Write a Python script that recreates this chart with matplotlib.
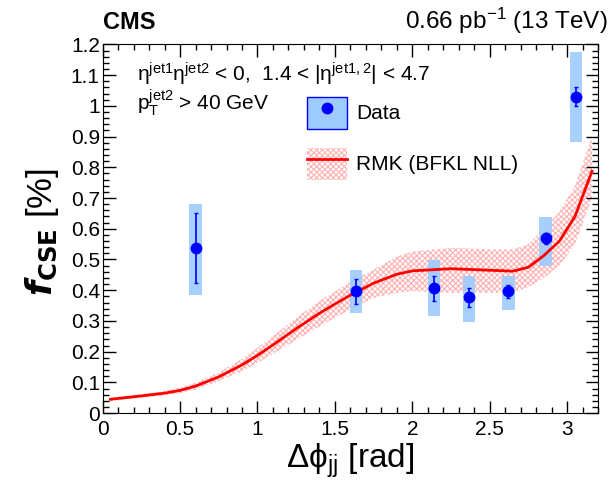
"""CMS colour-singlet-exchange fraction vs delta phi_jj, data vs RMK (BFKL NLL)."""

import matplotlib

matplotlib.use("Agg")
import matplotlib.pyplot as plt
from matplotlib.lines import Line2D
from matplotlib.patches import Patch
from matplotlib.ticker import MultipleLocator

plt.rcParams["font.family"] = ["Liberation Sans", "DejaVu Sans"]
plt.rcParams["mathtext.default"] = "regular"
plt.rcParams["hatch.linewidth"] = 0.8

# Data points: f_CSE [%] per dphi bin, stat errors and systematic band
dphi = [0.60, 1.635, 2.14, 2.365, 2.62, 2.86, 3.055]
f_cse = [0.537, 0.397, 0.407, 0.377, 0.397, 0.569, 1.03]
stat_lo = [0.425, 0.356, 0.365, 0.345, 0.376, 0.551, 1.00]
stat_hi = [0.651, 0.436, 0.446, 0.406, 0.417, 0.586, 1.06]
sys_lo = [0.385, 0.325, 0.317, 0.295, 0.336, 0.479, 0.883]
sys_hi = [0.681, 0.467, 0.497, 0.446, 0.446, 0.638, 1.175]
sys_halfwidth = 0.04

# RMK (BFKL NLL) prediction and its uncertainty band
rmk_x = [0.05, 0.25, 0.4, 0.5, 0.6, 0.75, 0.9, 1.0, 1.1, 1.25, 1.4, 1.5,
         1.6, 1.75, 1.9, 2.0, 2.25, 2.5, 2.65, 2.75, 2.85, 2.95, 3.05, 3.16]
rmk_y = [0.045, 0.056, 0.065, 0.074, 0.088, 0.118, 0.157, 0.188, 0.222,
         0.275, 0.325, 0.355, 0.384, 0.423, 0.452, 0.463, 0.470, 0.465,
         0.462, 0.475, 0.513, 0.56, 0.64, 0.787]
rmk_lo = [0.040, 0.050, 0.058, 0.065, 0.077, 0.104, 0.137, 0.163, 0.193,
          0.238, 0.283, 0.31, 0.337, 0.375, 0.392, 0.397, 0.392, 0.392,
          0.392, 0.41, 0.44, 0.48, 0.55, 0.70]
rmk_hi = [0.050, 0.062, 0.072, 0.083, 0.099, 0.132, 0.177, 0.213, 0.251,
          0.31, 0.365, 0.395, 0.428, 0.467, 0.51, 0.526, 0.538, 0.533,
          0.533, 0.55, 0.60, 0.655, 0.74, 0.90]

BAND_BLUE = "#9ecbff"
PINK = "#ffb0b0"

fig = plt.figure(figsize=(6.11, 4.93), dpi=100)
ax = fig.add_axes([0.168, 0.162, 0.811, 0.748])

# theory band + line
ax.fill_between(rmk_x, rmk_lo, rmk_hi, facecolor="none", edgecolor=PINK,
                hatch="xxxxxx", linewidth=0, zorder=1)
ax.plot(rmk_x, rmk_y, color="red", lw=2, zorder=3)

# systematic boxes
for x, lo, hi in zip(dphi, sys_lo, sys_hi):
    ax.bar(x, hi - lo, bottom=lo, width=2 * sys_halfwidth, color=BAND_BLUE,
           edgecolor="none", alpha=0.9, zorder=2)

yerr = [[v - l for v, l in zip(f_cse, stat_lo)], [h - v for v, h in zip(f_cse, stat_hi)]]
ax.errorbar(dphi, f_cse, yerr=yerr, fmt="o", color="blue", ms=7.5,
            elinewidth=1.2, capsize=1.5, capthick=1, zorder=4)

ax.set_xlim(0, 3.2)
ax.set_ylim(0, 1.2)
ax.xaxis.set_major_locator(MultipleLocator(0.5))
ax.xaxis.set_minor_locator(MultipleLocator(0.1))
ax.yaxis.set_major_locator(MultipleLocator(0.1))
ax.yaxis.set_minor_locator(MultipleLocator(0.02))
ax.set_xticks([0, 0.5, 1, 1.5, 2, 2.5, 3], ["0", "0.5", "1", "1.5", "2", "2.5", "3"])
ax.set_yticks([i / 10 for i in range(13)],
              ["0", "0.1", "0.2", "0.3", "0.4", "0.5", "0.6", "0.7", "0.8", "0.9", "1", "1.1", "1.2"])
ax.tick_params(which="both", direction="in", top=True, right=True, labelsize=15)
ax.tick_params(which="major", length=9, width=1)
ax.tick_params(which="minor", length=4.5, width=1)
ax.tick_params(axis="x", pad=5)
ax.tick_params(axis="y", pad=2)

ax.set_xlabel(r"$\Delta\phi_{jj}$ [rad]", fontsize=24, labelpad=2)
fig.text(0.068, 0.53, r"$\boldsymbol{f}_{\mathbf{CSE}}$ [%]", rotation=90,
         fontsize=25, ha="center", va="center")

fig.text(0.168, 0.9405, "CMS", fontsize=17, fontweight="bold", ha="left", va="baseline")
fig.text(0.995, 0.9405, r"0.66 pb$^{-1}$ (13 TeV)", fontsize=17.5, ha="right", va="baseline")

ax.text(0.07, 0.918, r"$\eta^{jet1}\eta^{jet2}$ < 0,  1.4 < |$\eta^{jet1,2}$| < 4.7",
        transform=ax.transAxes, fontsize=15, ha="left", va="center")
ax.text(0.07, 0.842, r"$p_{T}^{jet2}$ > 40 GeV",
        transform=ax.transAxes, fontsize=15, ha="left", va="center")

data_handle = (Patch(facecolor=BAND_BLUE, edgecolor="blue", lw=1),
               Line2D([], [], color="blue", marker="o", ls="none", ms=7.5))
rmk_handle = (Patch(facecolor="none", edgecolor=PINK, hatch="xxxxxx", lw=0),
              Line2D([], [], color="red", lw=2))
ax.legend([data_handle, rmk_handle], ["Data", "RMK (BFKL NLL)"],
          loc="upper left", bbox_to_anchor=(0.412, 0.858), frameon=False,
          borderpad=0, borderaxespad=0, fontsize=15, handlelength=1.92,
          handleheight=2.0, labelspacing=0.9, handletextpad=0.45)

fig.savefig("out.png", dpi=100)
